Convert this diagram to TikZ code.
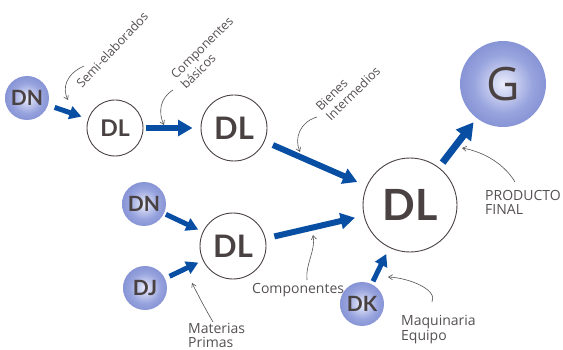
\documentclass[tikz,border=0pt]{standalone}
\usepackage{fontspec}
\setmainfont{Lato}
\newfontfamily\notefont{Open Sans}
\usetikzlibrary{arrows.meta}
\definecolor{ink}{RGB}{74,66,66}
\definecolor{flow}{RGB}{8,78,163}
\definecolor{note}{RGB}{85,80,82}
\definecolor{sphin}{RGB}{236,238,252}
\definecolor{sphmid}{RGB}{152,164,222}
\definecolor{sphout}{RGB}{104,119,197}
\definecolor{sphrim}{RGB}{88,103,186}
\pgfdeclareradialshading{sphere}{\pgfpoint{0bp}{0bp}}{%
  color(0bp)=(sphin); color(17bp)=(sphmid); color(40bp)=(sphout); color(50bp)=(sphrim); color(100bp)=(sphrim)}
\tikzset{
  dl/.style={circle, draw=ink, line width=0.9pt, fill=white, text=ink,
    inner sep=0pt, font=\bfseries},
  sph/.style={circle, shading=sphere, text=ink, inner sep=0pt, font=\bfseries},
  flowarrow/.style={draw=flow, line width=#1,
    -{Triangle[width=2.6*#1, length=2.4*#1]}},
  notearrow/.style={draw=note, line width=0.6pt, -{Straight Barb[length=4pt,width=5pt]}},
  label/.style={text=note, inner sep=0pt, font=\notefont\fontsize{14}{16}\selectfont},
  slanted/.style={label, font=\notefont\fontsize{12.5}{14}\selectfont, rotate=#1, anchor=base west},
}
\begin{document}
\begin{tikzpicture}[x=1pt, y=-1pt]
\useasboundingbox (0,0) rectangle (563,350);
\clip (0,0) rectangle (563,350);

% distribution nodes
\node[dl, minimum size=56pt, font=\bfseries\fontsize{23}{23}\selectfont] (dl1) at (115,128) {DL};
\node[dl, minimum size=66pt, font=\bfseries\fontsize{31}{31}\selectfont] (dl2) at (234,128) {DL};
\node[dl, minimum size=66pt, font=\bfseries\fontsize{31}{31}\selectfont] (dl3) at (233,246) {DL};
\node[dl, minimum size=94pt, font=\bfseries\fontsize{43}{43}\selectfont] (dlb) at (410,205) {DL};

% source and target spheres
\node[sph, minimum size=44pt, font=\bfseries\fontsize{21}{21}\selectfont] (dn1) at (27,98) {DN};
\node[sph, minimum size=44pt, font=\bfseries\fontsize{21}{21}\selectfont] (dn2) at (144,204) {DN};
\node[sph, minimum size=44pt, font=\bfseries\fontsize{21}{21}\selectfont] (dj) at (145,288) {DJ};
\node[sph, minimum size=44pt, font=\bfseries\fontsize{21}{21}\selectfont] (dk) at (362,304) {DK};
\node[sph, minimum size=86pt, font=\notefont\fontsize{46}{46}\selectfont] (g) at (503,84) {G};

% flows
\draw[flowarrow=5pt, shorten <=7pt, shorten >=7pt] (dn1) -- (dl1);
\draw[flowarrow=6pt, shorten <=3pt, shorten >=8pt] (dl1) -- (dl2);
\draw[flowarrow=6pt, shorten <=9pt, shorten >=10pt] (dl2) -- (dlb);
\draw[flowarrow=5pt, shorten <=2pt, shorten >=5pt] (dn2) -- (dl3);
\draw[flowarrow=5pt, shorten <=5pt, shorten >=5pt] (dj) -- (dl3);
\draw[flowarrow=6pt, shorten <=9pt, shorten >=9pt] (dl3) -- (dlb);
\draw[flowarrow=5pt, shorten <=3pt, shorten >=7pt] (dk) -- (dlb);
\draw[flowarrow=7pt, shorten <=6pt, shorten >=5pt] (dlb) -- (g);

% labels
\node[slanted=47] (t1) at (82,89) {Semi-elaborados};
\node[slanted=45] (t2a) at (176,80) {Componentes};
\node[slanted=45] (t2b) at (186,90) {básicos};
\node[slanted=45] (t3a) at (321,112) {Bienes};
\node[slanted=45] (t3b) at (331,122) {Intermedios};
\node[label, anchor=base west] (t4a) at (485,201) {PRODUCTO};
\node[label, anchor=base west] (t4b) at (485,215) {FINAL};
\node[label, anchor=base west] (t5) at (252,294) {Componentes};
\node[label, anchor=base west] (t6a) at (188,334) {Materias};
\node[label, anchor=base west] (t6b) at (188,347) {Primas};
\node[label, anchor=base west] (t7a) at (401,325) {Maquinaria};
\node[label, anchor=base west] (t7b) at (401,340) {Equipo};

% pointers from labels to flows
\coordinate (p1s) at (84,66);   \coordinate (p1e) at (68,100);
\coordinate (p2s) at (173,90);  \coordinate (p2e) at (164,125);
\coordinate (p3s) at (317,117); \coordinate (p3e) at (300,152);
\coordinate (p4s) at (515,182); \coordinate (p4e) at (462,148);
\coordinate (p5s) at (307,280); \coordinate (p5e) at (313,235);
\coordinate (p6s) at (213,322); \coordinate (p6e) at (192,283);
\coordinate (p7s) at (432,302); \coordinate (p7e) at (388,277);
\draw[notearrow] (p1s) .. controls (66,74) and (62,88) .. (p1e);
\draw[notearrow] (p2s) .. controls (160,98) and (158,112) .. (p2e);
\draw[notearrow] (p3s) .. controls (300,122) and (294,138) .. (p3e);
\draw[notearrow] (p4s) .. controls (505,165) and (485,152) .. (p4e);
\draw[notearrow] (p5s) .. controls (305,265) and (316,250) .. (p5e);
\draw[notearrow] (p6s) .. controls (206,310) and (199,297) .. (p6e);
\draw[notearrow] (p7s) .. controls (438,290) and (410,278) .. (p7e);
\end{tikzpicture}
\end{document}
